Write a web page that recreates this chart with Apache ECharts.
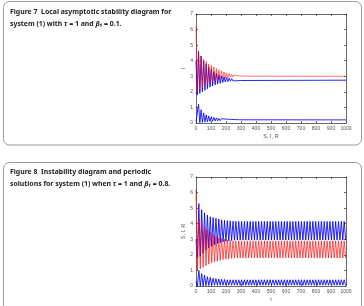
<!DOCTYPE html>
<html>
<head>
<meta charset="utf-8">
<script src="https://cdn.jsdelivr.net/npm/echarts@6/dist/echarts.min.js"></script>
<style>
  html, body { margin: 0; padding: 0; background: #fff; }
  #main { width: 364px; height: 306px; }
</style>
</head>
<body>
<div id="main"></div>
<script>
// sample times (peak / trough alternating) for figure 7, damped until ~300 then flat
var t7 = [0, 8.5, 17, 25.5, 34, 42.5, 51, 59.5, 68, 76.5, 85, 93.5, 102, 110.5, 119, 127.5,
  136, 144.5, 153, 161.5, 170, 178.5, 187, 195.5, 204, 212.5, 221, 229.5, 238, 246.5,
  255, 263.5, 272, 280.5, 289, 297.5, 306, 1000];
var S7 = [4.0, 1.8, 4.6, 1.9, 4.3, 2.0, 4.0, 2.1, 3.8, 2.2, 3.6, 2.3, 3.45, 2.38, 3.3, 2.45,
  3.2, 2.5, 3.1, 2.55, 3.02, 2.6, 2.96, 2.63, 2.92, 2.66, 2.88, 2.68, 2.85, 2.7,
  2.82, 2.71, 2.8, 2.72, 2.78, 2.73, 2.76, 2.75];
var I7 = [0.1, 0.0, 1.2, 0.02, 0.85, 0.04, 0.65, 0.06, 0.52, 0.08, 0.45, 0.1, 0.4, 0.11, 0.36, 0.13,
  0.33, 0.14, 0.3, 0.15, 0.28, 0.16, 0.26, 0.17, 0.25, 0.18, 0.24, 0.18, 0.23, 0.19,
  0.22, 0.19, 0.215, 0.195, 0.21, 0.2, 0.205, 0.2];
var R7 = [6.2, 2.0, 4.6, 2.1, 4.3, 2.25, 4.1, 2.4, 3.95, 2.5, 3.8, 2.6, 3.7, 2.65, 3.6, 2.7,
  3.5, 2.75, 3.42, 2.8, 3.35, 2.85, 3.28, 2.88, 3.22, 2.9, 3.17, 2.93, 3.12, 2.95,
  3.08, 2.97, 3.05, 2.98, 3.03, 2.99, 3.01, 3.0];

// figure 8: sustained oscillation
var t8 = [0, 9.5, 19, 28.5, 38, 47.5, 57, 66.5, 76, 85.5, 95, 104.5, 114, 123.5, 133, 142.5,
  152, 161.5, 171, 180.5, 190, 199.5, 209, 218.5, 228, 237.5, 247, 256.5, 266, 275.5,
  285, 294.5, 304, 313.5, 323, 332.5, 342, 351.5, 361, 370.5, 380, 389.5, 399, 408.5,
  418, 427.5, 437, 446.5, 456, 465.5, 475, 484.5, 494, 503.5, 513, 522.5, 532, 541.5,
  551, 560.5, 570, 579.5, 589, 598.5, 608, 617.5, 627, 636.5, 646, 655.5, 665, 674.5,
  684, 693.5, 703, 712.5, 722, 731.5, 741, 750.5, 760, 769.5, 779, 788.5, 798, 807.5,
  817, 826.5, 836, 845.5, 855, 864.5, 874, 883.5, 893, 902.5, 912, 921.5, 931, 940.5,
  950, 959.5, 969, 978.5, 988, 997.5];
var S8 = [3.0, 1.8, 5.3, 1.9, 4.9, 2.1, 4.7, 2.3, 4.55, 2.45, 4.45, 2.55, 4.4, 2.65, 4.35, 2.72,
  4.3, 2.78, 4.25, 2.83, 4.22, 2.87, 4.2, 2.9, 4.18, 2.92, 4.16, 2.94,
  4.15, 2.95, 4.15, 2.95, 4.15, 2.95, 4.15, 2.95, 4.15, 2.95, 4.15, 2.95, 4.15, 2.95,
  4.15, 2.95, 4.15, 2.95, 4.15, 2.95, 4.15, 2.95, 4.15, 2.95, 4.15, 2.95, 4.15, 2.95,
  4.15, 2.95, 4.15, 2.95, 4.15, 2.95, 4.15, 2.95, 4.15, 2.95, 4.15, 2.95, 4.15, 2.95,
  4.15, 2.95, 4.15, 2.95, 4.15, 2.95, 4.15, 2.95, 4.15, 2.95, 4.15, 2.95, 4.15, 2.95,
  4.15, 2.95, 4.15, 2.95, 4.15, 2.95, 4.15, 2.95, 4.15, 2.95, 4.15, 2.95, 4.15, 2.95,
  4.15, 2.95, 4.15, 2.95, 4.15, 2.95, 4.15, 2.95];
var I8 = [0.3, 0.0, 1.0, 0.0, 0.8, 0.0, 0.7, 0.02, 0.6, 0.03, 0.55, 0.04, 0.5, 0.05, 0.48, 0.05,
  0.45, 0.05, 0.43, 0.05, 0.42, 0.05,
  0.4, 0.05, 0.4, 0.05, 0.4, 0.05, 0.4, 0.05, 0.4, 0.05, 0.4, 0.05, 0.4, 0.05, 0.4, 0.05,
  0.4, 0.05, 0.4, 0.05, 0.4, 0.05, 0.4, 0.05, 0.4, 0.05, 0.4, 0.05, 0.4, 0.05, 0.4, 0.05,
  0.4, 0.05, 0.4, 0.05, 0.4, 0.05, 0.4, 0.05, 0.4, 0.05, 0.4, 0.05, 0.4, 0.05, 0.4, 0.05,
  0.4, 0.05, 0.4, 0.05, 0.4, 0.05, 0.4, 0.05, 0.4, 0.05, 0.4, 0.05, 0.4, 0.05, 0.4, 0.05,
  0.4, 0.05, 0.4, 0.05, 0.4, 0.05, 0.4, 0.05, 0.4, 0.05, 0.4, 0.05, 0.4, 0.05, 0.4, 0.05,
  0.4, 0.05, 0.4, 0.05];
var R8 = [6.2, 1.0, 4.3, 1.1, 4.0, 1.2, 3.8, 1.3, 3.6, 1.4, 3.45, 1.5, 3.3, 1.55, 3.2, 1.6,
  3.1, 1.65, 3.05, 1.7, 3.0, 1.72, 2.95, 1.75, 2.92, 1.78,
  2.9, 1.8, 2.9, 1.8, 2.9, 1.8, 2.9, 1.8, 2.9, 1.8, 2.9, 1.8, 2.9, 1.8, 2.9, 1.8,
  2.9, 1.8, 2.9, 1.8, 2.9, 1.8, 2.9, 1.8, 2.9, 1.8, 2.9, 1.8, 2.9, 1.8, 2.9, 1.8,
  2.9, 1.8, 2.9, 1.8, 2.9, 1.8, 2.9, 1.8, 2.9, 1.8, 2.9, 1.8, 2.9, 1.8, 2.9, 1.8,
  2.9, 1.8, 2.9, 1.8, 2.9, 1.8, 2.9, 1.8, 2.9, 1.8, 2.9, 1.8, 2.9, 1.8, 2.9, 1.8,
  2.9, 1.8, 2.9, 1.8, 2.9, 1.8, 2.9, 1.8, 2.9, 1.8, 2.9, 1.8, 2.9, 1.8, 2.9, 1.8,
  2.9, 1.8];

var xTicks = [0, 100, 200, 300, 400, 500, 600, 700, 800, 900, 1000];
var yTicks = [0, 1, 2, 3, 4, 5, 6, 7];

var chart = echarts.init(document.getElementById('main'), null, { renderer: 'canvas' });

function zip(ts, vs) {
  var out = [];
  for (var i = 0; i < ts.length && i < vs.length; i++) out.push([ts[i], vs[i]]);
  return out;
}

var axisColor = '#444';
var labelFont = 'Liberation Sans';

function makeAxis(kind, grid, pos, name, nameGap) {
  var ticks = kind == 'x' ? xTicks : yTicks;
  var main = pos == 'bottom' || pos == 'left';
  return {
    type: 'value',
    gridIndex: grid,
    position: pos,
    min: ticks[0],
    max: ticks[ticks.length - 1],
    interval: ticks[1] - ticks[0],
    axisLine: { show: true, onZero: false, lineStyle: { color: axisColor, width: 0.8 } },
    axisTick: { show: true, inside: true, length: 2, lineStyle: { color: axisColor, width: 0.8 } },
    axisLabel: {
      show: main, fontSize: 5, color: '#555', margin: 3, fontFamily: labelFont,
      formatter: function (v) { return String(v); }
    },
    splitLine: { show: false },
    name: main ? name : '',
    nameLocation: 'middle',
    nameGap: nameGap,
    nameTextStyle: { fontSize: 5.5, color: '#555', fontFamily: labelFont }
  };
}

function line(xi, ts, vs, color, op) {
  return {
    type: 'line',
    xAxisIndex: xi,
    yAxisIndex: xi,
    data: zip(ts, vs),
    symbol: 'none',
    silent: true,
    lineStyle: { color: color, width: 1, opacity: op }
  };
}

var capFont = '"Noto Sans", sans-serif';
var capSize = 6.9;
var rich = {
  i: { fontStyle: 'italic', fontWeight: 'bold', fontSize: capSize, fontFamily: capFont, fill: '#222' }
};

function caption(y, text) {
  return {
    type: 'text', x: 10, y: y,
    style: {
      text: text, fontSize: capSize, fontWeight: 'bold', fontFamily: capFont,
      fill: '#222', verticalAlign: 'middle', rich: rich
    }
  };
}

var option = {
  backgroundColor: '#fff',
  animation: false,
  grid: [
    { left: 196, top: 14, width: 150, height: 109 },
    { left: 196, top: 177, width: 150, height: 109 }
  ],
  xAxis: [
    makeAxis('x', 0, 'bottom', 'S, I, R', 10),
    makeAxis('x', 1, 'bottom', 't', 10),
    makeAxis('x', 0, 'top', '', 0),
    makeAxis('x', 1, 'top', '', 0)
  ],
  yAxis: [
    makeAxis('y', 0, 'left', 'I', 8),
    makeAxis('y', 1, 'left', 'S, I, R', 8),
    makeAxis('y', 0, 'right', '', 0),
    makeAxis('y', 1, 'right', '', 0)
  ],
  series: [
    line(0, t7, S7, '#0000ff', 0.85),
    line(0, t7, I7, '#0000ff', 0.85),
    line(0, t7, R7, '#ff0000', 0.55),
    line(1, t8, S8, '#0000ff', 0.85),
    line(1, t8, I8, '#0000ff', 0.85),
    line(1, t8, R8, '#ff0000', 0.65)
  ],
  graphic: [
    { type: 'rect', z: -10, shape: { x: 3.5, y: 1.5, width: 358, height: 143.5, r: 6 },
      style: { fill: 'none', stroke: '#9a9a9a', lineWidth: 1 } },
    { type: 'rect', z: -10, shape: { x: 3.5, y: 162.5, width: 358, height: 160, r: 6 },
      style: { fill: 'none', stroke: '#9a9a9a', lineWidth: 1 } },
    caption(12, 'Figure 7  Local asymptotic stability diagram for'),
    caption(24, 'system (1) with {i|τ} = 1 and {i|β₁} = 0.1.'),
    caption(172, 'Figure 8  Instability diagram and periodic'),
    caption(184, 'solutions for system (1) when {i|τ} = 1 and {i|β₁} = 0.8.')
  ]
};

chart.setOption(option);
</script>
</body>
</html>
